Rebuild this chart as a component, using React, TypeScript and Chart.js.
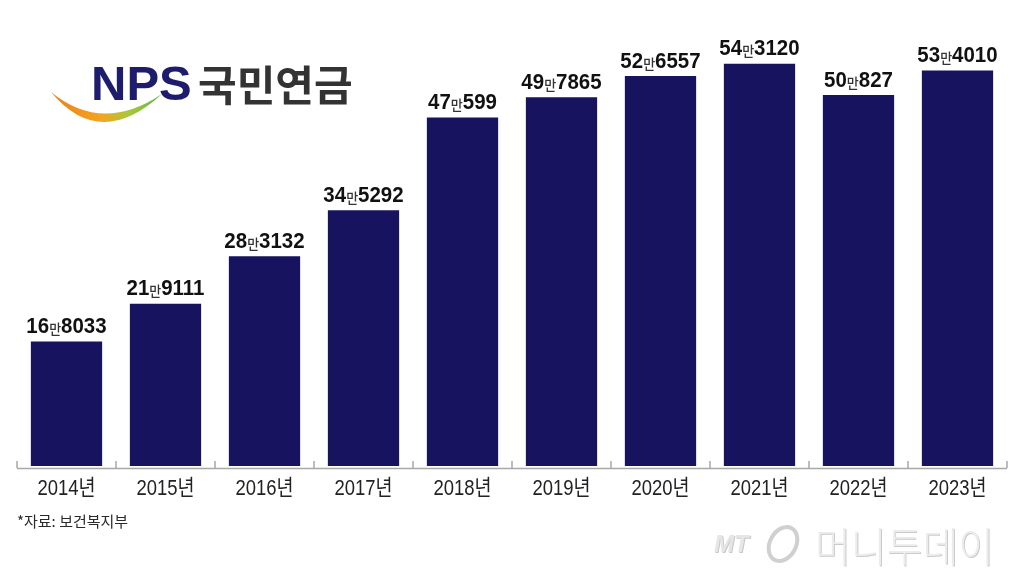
import React, { useEffect, useRef } from "react";
import { Chart, registerables } from "chart.js";

Chart.register(...registerables);

const years = ["2014", "2015", "2016", "2017", "2018", "2019", "2020", "2021", "2022", "2023"];
const yearSuffix = "년";
const values = [168033, 219111, 283132, 345292, 470599, 497865, 526557, 543120, 500827, 534010];
const unitText = "만";
const sourceText = "*자료: 보건복지부";
const logoLatin = "NPS";
const logoKorean = "국민연금";
const watermarkLatin = "MT";
const watermarkKorean = "머니투데이";

const BAR_COLOR = "#17135f";
const KFONT = "'Noto Sans CJK KR', 'Noto Sans', sans-serif";
const LFONT = "'Liberation Sans', Arial, 'Noto Sans CJK KR', sans-serif";

const decorPlugin = {
  id: "decor",
  beforeDatasetsDraw(chart: any) {
    const { ctx, chartArea } = chart;
    const xs = chart.scales.x;
    const half = (xs.getPixelForValue(1) - xs.getPixelForValue(0)) / 2;
    ctx.save();
    ctx.strokeStyle = "#a8a8a8";
    ctx.lineWidth = 1.5;
    ctx.beginPath();
    ctx.moveTo(chartArea.left, chartArea.bottom + 0.5);
    ctx.lineTo(chartArea.right, chartArea.bottom + 0.5);
    for (let i = 0; i <= years.length; i++) {
      const px = xs.getPixelForValue(0) - half + i * half * 2;
      ctx.moveTo(px, chartArea.bottom);
      ctx.lineTo(px, chartArea.bottom - 7);
    }
    ctx.stroke();
    ctx.restore();
  },
  afterDatasetsDraw(chart: any) {
    const { ctx, chartArea } = chart;
    const meta = chart.getDatasetMeta(0);
    const xs = chart.scales.x;
    ctx.save();
    meta.data.forEach((bar: any, i: number) => {
      const v = values[i];
      const a = String(Math.floor(v / 10000));
      const b = String(v % 10000);
      const big = "bold 22px " + LFONT;
      const small = "500 14px " + KFONT;
      ctx.font = big;
      const wa = ctx.measureText(a).width;
      const wb = ctx.measureText(b).width;
      ctx.font = small;
      const wm = ctx.measureText(unitText).width;
      const total = wa + wm + wb;
      const sx = 0.93;
      ctx.save();
      ctx.translate(bar.x, bar.y - 8.5);
      ctx.scale(sx, 1);
      ctx.fillStyle = "#111111";
      ctx.textBaseline = "alphabetic";
      ctx.textAlign = "left";
      let x0 = -total / 2;
      ctx.font = big;
      ctx.fillText(a, x0, 0);
      x0 += wa;
      ctx.font = small;
      ctx.fillStyle = "#333333";
      ctx.fillText(unitText, x0, 1);
      ctx.fillStyle = "#111111";
      x0 += wm;
      ctx.font = big;
      ctx.fillText(b, x0, 0);
      ctx.restore();
    });
    years.forEach((yr, i) => {
      const px = xs.getPixelForValue(i);
      ctx.save();
      ctx.translate(px, chartArea.bottom + 21);
      ctx.scale(0.84, 1);
      ctx.font = "22px " + LFONT;
      ctx.fillStyle = "#222222";
      ctx.textAlign = "center";
      ctx.textBaseline = "middle";
      ctx.fillText(yr + yearSuffix, 0, 0);
      ctx.restore();
    });
    ctx.restore();
  },
  afterDraw(chart: any) {
    const { ctx } = chart;
    ctx.save();
    ctx.fillStyle = "#2a2a2a";
    ctx.font = "15px " + KFONT;
    ctx.textBaseline = "middle";
    ctx.textAlign = "left";
    ctx.fillText(sourceText, 17, 521);

    const grad = ctx.createLinearGradient(52, 0, 162, 0);
    grad.addColorStop(0, "#f07f1b");
    grad.addColorStop(0.45, "#f3a51f");
    grad.addColorStop(0.7, "#a8c83a");
    grad.addColorStop(1, "#5fb544");
    ctx.fillStyle = grad;
    ctx.beginPath();
    ctx.moveTo(51, 92);
    ctx.quadraticCurveTo(100, 151, 162, 94);
    ctx.quadraticCurveTo(102, 134, 51, 92);
    ctx.closePath();
    ctx.fill();

    ctx.fillStyle = "#1e1c6c";
    ctx.font = "bold 49px " + LFONT;
    ctx.textBaseline = "alphabetic";
    ctx.fillText(logoLatin, 91, 100);
    ctx.fillStyle = "#333333";
    ctx.save();
    ctx.translate(198, 101);
    ctx.scale(1.0, 1);
    ctx.font = "bold 42px " + KFONT;
    ctx.fillText(logoKorean, 0, 0);
    ctx.restore();

    ctx.save();
    ctx.font = "italic bold 24px " + LFONT;
    ctx.fillStyle = "#c9c9c9";
    ctx.fillText(watermarkLatin, 715, 553);
    ctx.fillStyle = "#e6e6e6";
    ctx.fillText(watermarkLatin, 714, 552);
    ctx.restore();
    ctx.save();
    ctx.strokeStyle = "#d0d0d0";
    ctx.lineWidth = 4;
    ctx.beginPath();
    ctx.ellipse(783, 544, 13, 18, 0.5, 0, Math.PI * 2);
    ctx.stroke();
    ctx.restore();
    ctx.save();
    ctx.translate(815, 562);
    ctx.scale(0.95, 1);
    ctx.font = "300 41px " + KFONT;
    ctx.fillStyle = "#cbcbcb";
    ctx.fillText(watermarkKorean, 1, 1);
    ctx.fillStyle = "#ececec";
    ctx.fillText(watermarkKorean, 0, 0);
    ctx.restore();
    ctx.restore();
  },
};

export default function App() {
  const ref = useRef<HTMLCanvasElement | null>(null);
  useEffect(() => {
    document.body.style.margin = "0";
    document.body.style.background = "#ffffff";
    if (!ref.current) return;
    const chart = new Chart(ref.current, {
      type: "bar",
      data: {
        labels: years.map((y) => y + yearSuffix),
        datasets: [
          {
            data: values,
            backgroundColor: BAR_COLOR,
            borderWidth: 0,
            barPercentage: 0.72,
            categoryPercentage: 1,
          },
        ],
      },
      options: {
        responsive: false,
        animation: false,
        layout: { padding: { left: 17, right: 17, top: 29, bottom: 110 } },
        plugins: { legend: { display: false }, tooltip: { enabled: false } },
        scales: {
          x: { display: false },
          y: { display: false, min: -2700, max: 590100 },
        },
      },
      plugins: [decorPlugin],
    });
    return () => chart.destroy();
  }, []);
  return (
    <div style={{ width: 1024, height: 578, background: "#fff" }}>
      <canvas ref={ref} width={1024} height={578} style={{ display: "block" }} />
    </div>
  );
}
